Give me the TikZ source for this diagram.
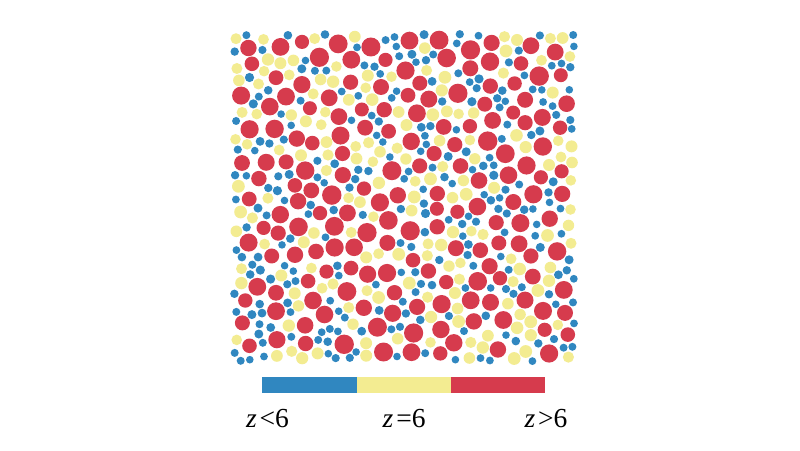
\documentclass[tikz,border=0pt]{standalone}
\usepackage{fontspec}
\setmainfont{Liberation Serif}
\definecolor{cb}{RGB}{48,135,192}
\definecolor{cy}{RGB}{243,236,145}
\definecolor{cr}{RGB}{214,59,77}
\newcount\rs \rs=20231
\newcount\rt
\newcount\att \newcount\cnt
\newcount\ii \newcount\jj
\newif\ifok \newif\ifgoon
\def\nextrand{\rt=\rs \divide\rt by 127773
  \rs=\numexpr 16807*(\rs-\rt*127773)-2836*\rt\relax
  \ifnum\rs<1 \advance\rs by 2147483647 \fi}
\def\rnd#1#2{\nextrand\rt=\rs\divide\rt by #2\relax\edef#1{\the\numexpr\rs-\rt*#2\relax}}
\def\pgap{5}
\def\pxmin{2300}\def\pW{3480}
\def\pymin{850}\def\pH{3350}
% initialise empty cells
\ii=0
\loop
 \jj=0
 {\loop \expandafter\gdef\csname cc\the\ii:\the\jj\endcsname{}\advance\jj by 1 \ifnum\jj<40 \repeat}%
 \advance\ii by 1
\ifnum\ii<45 \repeat
\def\cdo#1#2#3{\ifnum\numexpr(\pX-#1)*(\pX-#1)+(\pY-#2)*(\pY-#2)\relax<\numexpr(\pR+#3+\pgap)*(\pR+#3+\pgap)\relax \okfalse\fi}
\def\chk#1#2{\csname cc\the\numexpr#1\relax:\the\numexpr#2\relax\endcsname}
\def\addcell{\expandafter\let\expandafter\ptmp\csname cc\pcx:\pcy\endcsname
 \expandafter\xdef\csname cc\pcx:\pcy\endcsname{\unexpanded\expandafter{\ptmp}\noexpand\cdo{\pX}{\pY}{\pR}}}
% #1 attempts, #2 target, #3 rmin (tenths px), #4 r range, #5 colour
\def\place#1#2#3#4#5{%
 \att=0 \cnt=0
 \loop
  \rnd\dR{#4}\edef\pR{\the\numexpr#3+\dR\relax}%
  \edef\pw{\the\numexpr\pW-2*\pR\relax}\rnd\dX{\pw}\edef\pX{\the\numexpr\pxmin+\pR+\dX\relax}%
  \edef\ph{\the\numexpr\pH-2*\pR\relax}\rnd\dY{\ph}\edef\pY{\the\numexpr\pymin+\pR+\dY\relax}%
  \edef\pcx{\the\numexpr(\pX-100)/200\relax}\edef\pcy{\the\numexpr(\pY-100)/200\relax}%
  \oktrue
  \chk{\pcx-1}{\pcy-1}\chk{\pcx}{\pcy-1}\chk{\pcx+1}{\pcy-1}%
  \chk{\pcx-1}{\pcy}\chk{\pcx}{\pcy}\chk{\pcx+1}{\pcy}%
  \chk{\pcx-1}{\pcy+1}\chk{\pcx}{\pcy+1}\chk{\pcx+1}{\pcy+1}%
  \ifok
    \addcell \advance\cnt by 1
    \edef\pRd{\the\dimexpr\pR pt/10\relax}%
    \edef\pXd{\the\dimexpr\pX pt/10\relax}%
    \edef\pYd{\the\dimexpr\pY pt/10\relax}%
    \fill[#5] (\pXd,\pYd) circle[radius=\pRd];%
  \fi
  \advance\att by 1
  \goonfalse
  \ifnum\att<#1 \ifnum\cnt<#2 \goontrue\fi\fi
 \ifgoon\repeat}
\tikzset{
  lab/.style={anchor=base, inner sep=0pt, font=\fontsize{27.5}{30}\selectfont},
  barseg/.style={anchor=south west, inner sep=0pt, minimum width=94.33pt, minimum height=16pt}
}
\begin{document}
\begin{tikzpicture}[x=1pt,y=1pt]
\useasboundingbox (0,0) rectangle (800,450);
\fill[white] (0,0) rectangle (800,450);
\place{4000}{170}{70}{28}{cr}
\place{3000}{50}{38}{9}{cb}
\place{4000}{120}{53}{12}{cy}
\place{3000}{50}{38}{9}{cb}
\place{25000}{400}{53}{12}{cy}
\place{40000}{650}{38}{9}{cb}
% legend
\node[barseg, fill=cb] (b1) at (262,57) {};
\node[barseg, fill=cy] (b2) at (356.33,57) {};
\node[barseg, fill=cr] (b3) at (450.67,57) {};
\node[lab] (l1) at (267.5,22.5) {\textit{z}\kern3pt<6};
\node[lab] (l2) at (404.2,22.5) {\textit{z}\kern3pt=6};
\node[lab] (l3) at (546,22.5) {\textit{z}\kern3pt>6};
\end{tikzpicture}
\end{document}
